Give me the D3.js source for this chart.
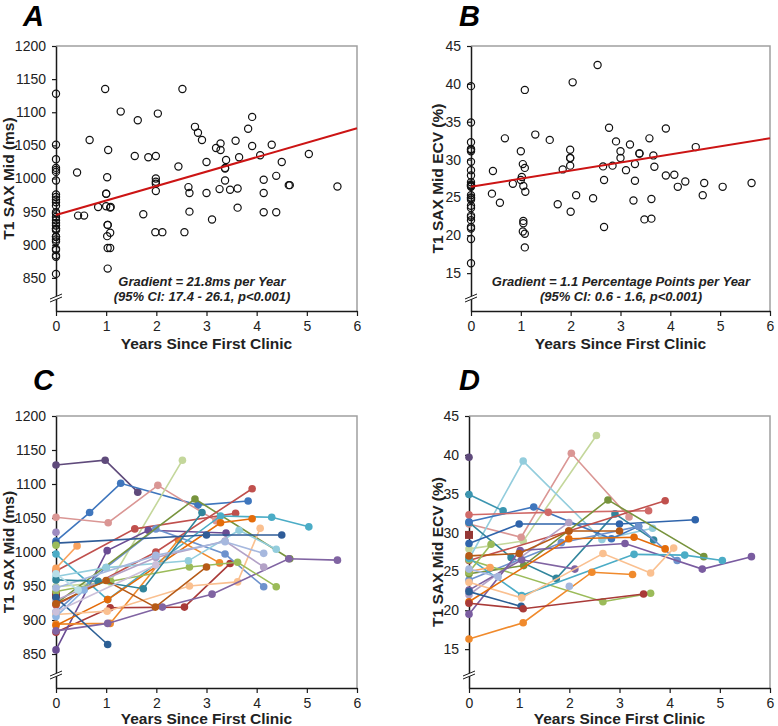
<!DOCTYPE html>
<html><head><meta charset="utf-8">
<script src="https://cdn.jsdelivr.net/npm/d3@7"></script>
<style>
body{margin:0;background:#fff}
svg{display:block}
text{font-family:"Liberation Sans",Arial,sans-serif}
</style>
</head><body>
<svg id="chart" width="778" height="726"></svg>
<script>
// ---------- tick labels ----------
const yearTicks = [0, 1, 2, 3, 4, 5, 6];
const t1Ticks = [850, 900, 950, 1000, 1050, 1100, 1150, 1200];
const ecvTicks = [15, 20, 25, 30, 35, 40, 45];

// ---------- regression fits ----------
const t1Fit = { intercept: 945, slope: 21.8 };
const ecvFit = { intercept: 26.4, slope: 1.07 };
const t1FitText = ["Gradient = 21.8ms per Year", "(95% CI: 17.4 - 26.1, p<0.001)"];
const ecvFitText = ["Gradient = 1.1 Percentage Points per Year", "(95% CI: 0.6 - 1.6, p<0.001)"];

// ---------- T1 per patient (panel C, pooled in A) ----------
const t1Times = [
  [0, 0.98, 1.63],
  [0, 0.67, 1.29, 2.83, 3.83],
  [0, 1.04, 2.03, 3.19],
  [0, 1.08, 2.52],
  [0, 1.57, 3.58],
  [0, 1.08, 2.56, 3.47],
  [0, 1.02, 1.84, 3.39],
  [0, 1.0, 1.99, 3.37, 4.14],
  [0, 2.77, 4.66],
  [0, 1.03, 3.28, 4.3, 5.04],
  [0, 0.42],
  [0, 1.08, 2.44, 3.26],
  [0, 1.03, 3.28, 3.91],
  [0, 1.02, 2.66, 3.62, 4.07],
  [0, 1.03, 2.12, 3.11, 4.64, 5.61],
  [0],
  [0, 1.99, 3.91],
  [0, 1.09, 2.66, 3.62, 4.39],
  [0, 1.0, 2.64, 3.65, 4.39],
  [0, 1.99, 3.37, 4.14],
  [0, 1.99, 3.37, 4.14],
  [0, 0.84, 1.74, 2.91],
  [0, 1.03],
  [0, 3.0, 4.5],
  [0, 1.0, 1.98, 3.0],
  [0],
  [0],
  [0, 0.56],
  [0, 0.44],
  [0, 1.99]
];
const t1Values = [
  [1128, 1135, 1088],
  [1016, 1058, 1101, 1069, 1075],
  [1051, 1043, 1098, 1046],
  [949, 956, 1135],
  [972, 1034, 1057],
  [882, 918, 919, 983],
  [856, 1002, 1032, 1028],
  [912, 977, 1034, 997, 949],
  [924, 1078, 990],
  [997, 930, 1053, 1051, 1037],
  [976, 1009],
  [894, 895, 1018, 984],
  [892, 930, 1043, 1049],
  [908, 913, 950, 956, 1035],
  [884, 895, 919, 938, 990, 988],
  [937],
  [922, 1000, 1093],
  [942, 957, 978, 985, 949],
  [964, 977, 987, 1032, 1004],
  [929, 992, 1016, 978],
  [947, 995, 1015, 998],
  [959, 957, 946, 1058],
  [933, 864],
  [1013, 1025, 1025],
  [924, 958, 919, 978],
  [1029],
  [1010],
  [905, 944],
  [968, 944],
  [912, 981]
];

// ---------- ECV per patient (panel D, pooled in B) ----------
const ecvTimes = [
  [0],
  [0, 1.08, 2.54],
  [0, 1.04, 2.04, 3.19],
  [0, 1.08, 2.65, 3.66],
  [0, 0.84, 1.74, 2.91, 3.68],
  [0, 0.68],
  [0, 1.29, 2.84, 3.38],
  [0, 1.58, 3.58],
  [0, 1.0, 3.0, 4.51],
  [0, 1.99, 3.91],
  [0, 1.99],
  [0, 1.84, 3.38, 4.15],
  [0, 1.09, 2.77, 4.68],
  [0, 2.67, 3.62],
  [0, 1.02, 3.11, 4.65, 5.63],
  [0, 1.05, 2.11],
  [0, 1.05, 3.29, 4.3, 5.05],
  [0, 0.42],
  [0, 1.08, 2.45, 3.26],
  [0, 1.05, 2.67, 3.62, 4.08],
  [0, 1.99, 3.29, 3.91],
  [0, 1.04],
  [0, 1.08, 3.48],
  [0],
  [0, 1.0, 1.99, 3.0],
  [0, 0.44],
  [0, 0.58],
  [2.0]
];
const ecvValues = [
  [39.7],
  [27.9, 28.9, 42.5],
  [31.1, 29.4, 40.2, 32.0],
  [26.6, 39.2, 29.1, 30.55],
  [31.3, 26.8, 24.1, 32.4, 29.05],
  [34.9, 32.8],
  [31.4, 33.3, 29.2, 30.8],
  [32.3, 32.6, 32.8],
  [28.6, 31.1, 31.1, 31.65],
  [26.4, 30.2, 34.1],
  [22.0, 31.3],
  [23.9, 28.7, 30.8, 26.4],
  [24.7, 25.75, 34.2, 26.9],
  [26.5, 21.1, 22.2],
  [19.5, 27.7, 28.6, 25.3, 26.9],
  [22.6, 26.5, 25.3],
  [26.7, 21.9, 27.2, 27.1, 26.4],
  [25.0, 25.5],
  [16.3, 18.4, 24.9, 24.6],
  [23.6, 21.6, 27.3, 24.8, 28.0],
  [21.1, 29.2, 29.4, 27.9],
  [22.4, 20.5],
  [20.9, 20.2, 22.1],
  [29.7],
  [27.0, 27.3, 30.2, 30.2],
  [24.9, 28.5],
  [25.3, 24.3],
  [23.1]
];

// ---------- styles (colours per series, marker shapes) ----------
const t1Colors = ["#5F4A7B","#3F76BD","#DA9694","#C4D79B","#C0504D","#A93A38","#6A4C93","#6D92CD","#77933C","#4BACC6",
  "#F9A25E","#F08A2C","#E46C0A","#FAC090","#8064A2","#953735","#C0504D","#9BBB59","#93CDDD","#B3A2C7",
  "#A6B8DE","#31859C","#2C5F95","#2F5C98","#B65A16","#9E8BC0","#9BBB59","#8DB4E2","#B7DEE8","#CCC0DA"];
const ecvColors = ["#5F4A7B","#C4D79B","#DA9694","#93CDDD","#31859C","#3B95B0","#3F76BD","#D06A68","#2F64AB","#C0504D",
  "#B3A2C7","#6D92CD","#77933C","#9BBB59","#7A5CA0","#8064A2","#4BACC6","#F9A25E","#F08A2C","#FAC090",
  "#E46C0A","#2C5F95","#A93A38","#953735","#B65A16","#9BBB59","#A6B8DE","#A6B8DE"];
const t1Squares = [15];
const ecvSquares = [23];

const svg = d3.select("#chart");
const fmt = d3.format("d");

function panel(cfg) {
  const g = svg.append("g");
  const x = d3.scaleLinear().domain([0, 6]).range([cfg.left, cfg.right]);
  const y = d3.scaleLinear().domain(cfg.yDomain).range([cfg.bottom, cfg.top]);

  // frame top/right
  g.append("path")
    .attr("d", `M${cfg.left},${cfg.top}H${cfg.right}V${cfg.bottom}`)
    .attr("fill", "none").attr("stroke", "#a0a0a0").attr("stroke-width", 1.5);

  // axes
  const ya = g.append("g").attr("transform", `translate(${cfg.left},0)`)
    .call(d3.axisLeft(y).tickValues(cfg.yTicks).tickFormat(fmt).tickSize(4).tickSizeOuter(0).tickPadding(6));
  const xa = g.append("g").attr("transform", `translate(0,${cfg.bottom})`)
    .call(d3.axisBottom(x).tickValues(yearTicks).tickFormat(fmt).tickSize(5).tickSizeOuter(0).tickPadding(5));
  [ya, xa].forEach(a => {
    a.select(".domain").attr("stroke", "#1a1a1a").attr("stroke-width", 1.5);
    a.selectAll(".tick line").attr("stroke", "#1a1a1a").attr("stroke-width", 1.2);
    a.selectAll(".tick text").attr("font-size", 14).attr("fill", "#222")
      .style("font-family", '"Liberation Sans",Arial,sans-serif');
  });

  // axis break marks
  const by = cfg.bottom - 13;
  g.append("path").attr("d", `M${cfg.left-6},${by+4}L${cfg.left+6},${by-1}L${cfg.left+6},${by-4}L${cfg.left-6},${by+1}Z`)
    .attr("fill", "#fff").attr("stroke", "none");
  g.append("path").attr("d", `M${cfg.left-6},${by+4}L${cfg.left+6},${by-1}M${cfg.left-6},${by+1}L${cfg.left+6},${by-4}`)
    .attr("stroke", "#1a1a1a").attr("stroke-width", 1);

  // titles
  g.append("text").attr("x", (cfg.left + cfg.right) / 2).attr("y", cfg.xTitleY)
    .attr("text-anchor", "middle").attr("font-weight", "bold").attr("font-size", 15.5).attr("fill", "#222")
    .text("Years Since First Clinic");
  g.append("text").attr("transform", `translate(${cfg.yTitleX},${(cfg.top + cfg.bottom) / 2}) rotate(-90)`)
    .attr("text-anchor", "middle").attr("font-weight", "bold").attr("font-size", 15.5).attr("fill", "#222")
    .text(cfg.yTitle);
  g.append("text").attr("x", cfg.letterX).attr("y", cfg.letterY)
    .attr("font-weight", "bold").attr("font-style", "italic").attr("font-size", 29).attr("fill", "#000")
    .text(cfg.letter);

  if (cfg.scatter) {
    const pts = [];
    cfg.times.forEach((ts, i) => ts.forEach((t, j) => pts.push([t, cfg.values[i][j]])));
    g.append("g").selectAll("circle").data(pts).join("circle")
      .attr("cx", d => x(d[0])).attr("cy", d => y(d[1])).attr("r", 3.6)
      .attr("fill", "none").attr("stroke", "#111").attr("stroke-width", 1.2);
    g.append("line")
      .attr("x1", x(0)).attr("y1", y(cfg.fit.intercept))
      .attr("x2", x(6)).attr("y2", y(cfg.fit.intercept + 6 * cfg.fit.slope))
      .attr("stroke", "#cc1414").attr("stroke-width", 2);
    const tx = cfg.textX;
    g.append("text").attr("x", tx).attr("y", cfg.bottom - 25).attr("text-anchor", "middle")
      .attr("font-weight", "bold").attr("font-style", "italic").attr("font-size", 13).attr("fill", "#222")
      .text(cfg.fitText[0]);
    g.append("text").attr("x", tx).attr("y", cfg.bottom - 10).attr("text-anchor", "middle")
      .attr("font-weight", "bold").attr("font-style", "italic").attr("font-size", 13).attr("fill", "#222")
      .text(cfg.fitText[1]);
  } else {
    const line = d3.line().x(d => x(d[0])).y(d => y(d[1]));
    cfg.times.forEach((ts, i) => {
      const data = ts.map((t, j) => [t, cfg.values[i][j]]);
      const col = cfg.colors[i];
      const s = g.append("g");
      if (data.length > 1) s.append("path").attr("d", line(data)).attr("fill", "none")
        .attr("stroke", col).attr("stroke-width", 1.6);
      if (cfg.squares.includes(i)) {
        s.selectAll("rect").data(data).join("rect")
          .attr("x", d => x(d[0]) - 4).attr("y", d => y(d[1]) - 4).attr("width", 8).attr("height", 8)
          .attr("fill", col);
      } else {
        s.selectAll("circle").data(data).join("circle")
          .attr("cx", d => x(d[0])).attr("cy", d => y(d[1])).attr("r", 3.8).attr("fill", col);
      }
    });
  }
}

panel({ left: 56, right: 357, top: 46, bottom: 311, yDomain: [800, 1200], yTicks: t1Ticks,
  xTitleY: 349, yTitleX: 14, yTitle: "T1 SAX Mid (ms)", letter: "A", letterX: 23, letterY: 26,
  scatter: true, times: t1Times, values: t1Values, fit: t1Fit, fitText: t1FitText, textX: 202 });
panel({ left: 471, right: 770, top: 46, bottom: 311, yDomain: [10, 45], yTicks: ecvTicks,
  xTitleY: 349, yTitleX: 443, yTitle: "T1 SAX Mid ECV (%)", letter: "B", letterX: 459, letterY: 26,
  scatter: true, times: ecvTimes, values: ecvValues, fit: ecvFit, fitText: ecvFitText, textX: 621 });
panel({ left: 56, right: 357, top: 416, bottom: 688, yDomain: [800, 1200], yTicks: t1Ticks,
  xTitleY: 724, yTitleX: 14, yTitle: "T1 SAX Mid (ms)", letter: "C", letterX: 33, letterY: 390,
  scatter: false, times: t1Times, values: t1Values, colors: t1Colors, squares: t1Squares });
panel({ left: 469, right: 770, top: 416, bottom: 688, yDomain: [10, 45], yTicks: ecvTicks,
  xTitleY: 724, yTitleX: 443, yTitle: "T1 SAX Mid ECV (%)", letter: "D", letterX: 459, letterY: 390,
  scatter: false, times: ecvTimes, values: ecvValues, colors: ecvColors, squares: ecvSquares });
</script>
</body></html>
